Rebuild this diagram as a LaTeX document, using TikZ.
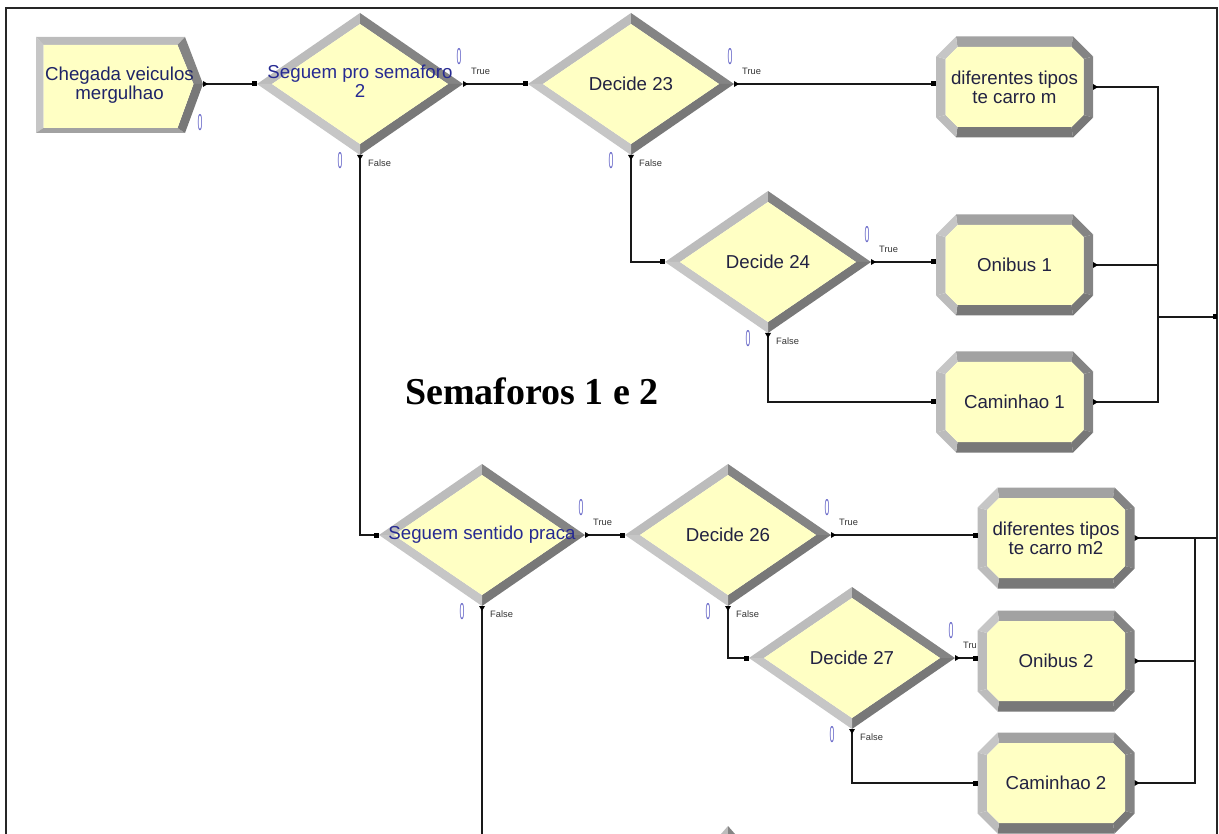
\documentclass[tikz,border=0pt]{standalone}
\usepackage{fontspec}
\setmainfont{Liberation Sans}
\newfontfamily\titleserif{Liberation Serif}
\usetikzlibrary{shapes.geometric,calc}

\definecolor{modfill}{RGB}{255,255,196}
\definecolor{bevlt}{RGB}{188,188,188}
\definecolor{bevxl}{RGB}{198,198,198}
\definecolor{bevmd}{RGB}{162,162,162}
\definecolor{bevdk}{RGB}{132,132,132}
\definecolor{bevdkr}{RGB}{120,120,120}
\definecolor{txtslate}{RGB}{34,34,66}
\definecolor{txtnavy}{RGB}{30,36,104}
\definecolor{txtblue}{RGB}{38,42,146}
\definecolor{cntblue}{RGB}{104,104,200}

% thin counter digit shown next to each module
\newcommand\cntzero{\scalebox{0.38}[1]{0}}

% counters, branch names and port marks of a Decide module
\newcommand\branchmarks[2]{%
  \node[cnt] (#1-tc) at ($(#1.east)+(-4,-27)$) {\cntzero};
  \node[branch] (#1-tl) at ($(#1.east)+(8,-13)$) {#2};
  \node[cnt] (#1-fc) at ($(#1.south)+(-20,6)$) {\cntzero};
  \node[branch] (#1-fl) at ($(#1.south)+(8,8)$) {False};
  \pic at (#1.west) {inport};
  \pic at (#1.east) {outport};
  \pic[rotate=-90] at (#1.south) {outport};
}

\begin{document}
\begin{tikzpicture}[x=1pt,y=-1pt,
  modfont/.style={font=\fontsize{18.7}{19}\selectfont},
  decide/.style={shape=diamond, minimum width=206, minimum height=142,
    inner sep=0, outer sep=0, modfont, text=txtslate},
  assign/.style={shape=rectangle, minimum width=157, minimum height=101,
    inner sep=0, outer sep=0, modfont, text=txtslate, align=center},
  create/.style={shape=rectangle, minimum width=167, minimum height=96,
    inner sep=0, outer sep=0, modfont, text=txtnavy, align=center},
  cnt/.style={font=\fontsize{23}{23}\selectfont, text=cntblue, inner sep=0},
  branch/.style={font=\fontsize{9.3}{10}\selectfont, text=black!80,
    inner sep=0, anchor=west},
  conn/.style={line width=1.1pt, black!90},
  frame/.style={line width=1.6pt, black!85},
  inport/.pic={\fill[black] (-5,-2.5) rectangle (0,2.5);},
  outport/.pic={\fill[black] (0,-3) -- (5,0) -- (0,3) -- cycle;},
  decidebevel/.pic={
    \fill[bevlt] (-103,0) -- (0,-71) -- (0,-60) -- (-88,0) -- cycle;
    \fill[bevdk] (0,-71) -- (103,0) -- (88,0) -- (0,-60) -- cycle;
    \fill[bevdkr] (103,0) -- (0,71) -- (0,60) -- (88,0) -- cycle;
    \fill[bevxl] (0,71) -- (-103,0) -- (-88,0) -- (0,60) -- cycle;
    \fill[modfill] (-88,0) -- (0,-60) -- (88,0) -- (0,60) -- cycle;
  },
  assignbevel/.pic={
    \fill[bevmd] (-58.5,-50.5) -- (58.5,-50.5) -- (57,-40) -- (-57,-40) -- cycle;
    \fill[bevdk] (58.5,-50.5) -- (78.5,-30.5) -- (69,-28) -- (57,-40) -- cycle;
    \fill[bevdk] (78.5,-30.5) -- (78.5,30.5) -- (69,28) -- (69,-28) -- cycle;
    \fill[bevdkr] (78.5,30.5) -- (58.5,50.5) -- (57,40) -- (69,28) -- cycle;
    \fill[bevdkr] (58.5,50.5) -- (-58.5,50.5) -- (-57,40) -- (57,40) -- cycle;
    \fill[bevlt] (-58.5,50.5) -- (-78.5,30.5) -- (-69,28) -- (-57,40) -- cycle;
    \fill[bevlt] (-78.5,30.5) -- (-78.5,-30.5) -- (-69,-28) -- (-69,28) -- cycle;
    \fill[bevxl] (-78.5,-30.5) -- (-58.5,-50.5) -- (-57,-40) -- (-69,-28) -- cycle;
    \fill[modfill] (-57,-40) -- (57,-40) -- (69,-28) -- (69,28) -- (57,40)
      -- (-57,40) -- (-69,28) -- (-69,-28) -- cycle;
  },
  createbevel/.pic={
    \fill[bevlt] (-83.5,-47) -- (65.5,-47) -- (58,-39) -- (-76,-39) -- cycle;
    \fill[bevxl] (-83.5,-47) -- (-76,-39) -- (-76,44) -- (-83.5,49) -- cycle;
    \fill[bevmd] (-83.5,49) -- (-76,44) -- (58,44) -- (65.5,49) -- cycle;
    \fill[bevdk] (65.5,-47) -- (83.5,0) -- (74,0) -- (58,-39) -- cycle;
    \fill[bevdkr] (83.5,0) -- (65.5,49) -- (58,44) -- (74,0) -- cycle;
    \fill[modfill] (-76,-39) -- (58,-39) -- (74,0) -- (58,44) -- (-76,44) -- cycle;
  },
]
\useasboundingbox (0,0) rectangle (1219,834);

% page frame
\draw[frame] (6,834) -- (6,8) -- (1217,8) -- (1217,834);

% module bodies
\pic at (119.5,84) {createbevel};
\pic at (360,84) {decidebevel};
\pic at (631,84) {decidebevel};
\pic at (768,262) {decidebevel};
\pic at (482,535) {decidebevel};
\pic at (728,535) {decidebevel};
\pic at (852,658) {decidebevel};
\pic at (1014.5,87) {assignbevel};
\pic at (1014.5,265) {assignbevel};
\pic at (1014.5,402) {assignbevel};
\pic at (1056,538) {assignbevel};
\pic at (1056,661) {assignbevel};
\pic at (1056,783) {assignbevel};

% top of a module lying below the visible area
\fill[bevlt] (721,834) -- (728,826) -- (728,834) -- cycle;
\fill[bevdk] (728,826) -- (735,834) -- (728,834) -- cycle;

% modules
\node[create] (c) at (119.5,85) {Chegada veiculos\\mergulhao};
\node[decide, text=txtblue] (d1) at (360,84)
  {\makebox[0pt]{\begin{tabular}{@{}c@{}}Seguem pro semaforo\\2\end{tabular}}};
\node[decide] (d23) at (631,84) {\makebox[0pt]{Decide 23}};
\node[decide] (d24) at (768,262) {\makebox[0pt]{Decide 24}};
\node[decide, text=txtblue] (d2) at (482,535) {\makebox[0pt]{Seguem sentido praca}};
\node[decide] (d26) at (728,535) {\makebox[0pt]{Decide 26}};
\node[decide] (d27) at (852,658) {\makebox[0pt]{Decide 27}};
\node[assign] (a1) at (1014.5,87) {diferentes tipos\\te carro m};
\node[assign] (on1) at (1014.5,265) {Onibus 1};
\node[assign] (ca1) at (1014.5,402) {Caminhao 1};
\node[assign] (a2) at (1056,538) {diferentes tipos\\te carro m2};
\node[assign] (on2) at (1056,661) {Onibus 2};
\node[assign] (ca2) at (1056,783) {Caminhao 2};

\node[font=\titleserif\fontsize{38}{40}\selectfont\bfseries, anchor=base, inner sep=0]
  (title) at (532,405) {Semaforos 1 e 2};

% merge points and exits
\coordinate (m1) at (1158,317);
\coordinate (out1) at (1217,317);
\coordinate (m2) at (1195,538);
\coordinate (out2) at (1217,538);
\coordinate (d2exit) at (482,834);

% connections
\draw[conn] (c.east |- d1.west) -- (d1.west);
\draw[conn] (d1.east) -- (d23.west);
\draw[conn] (d23.east) -- (d23.east -| a1.west);
\draw[conn] (d23.south) |- (d24.west);
\draw[conn] (d24.east) -- (d24.east -| on1.west);
\draw[conn] (d24.south) |- (ca1.west);
\draw[conn] (d1.south) |- (d2.west);
\draw[conn] (d2.east) -- (d26.west);
\draw[conn] (d26.east) -- (d26.east -| a2.west);
\draw[conn] (d26.south) |- (d27.west);
\draw[conn] (d27.east) -- (d27.east -| on2.west);
\draw[conn] (d27.south) |- (ca2.west);
\draw[conn] (d2.south) -- (d2exit);
\draw[conn] (a1.east) -| (m1);
\draw[conn] (on1.east) -| (m1);
\draw[conn] (ca1.east) -| (m1);
\draw[conn] (m1) -- (out1);
\draw[conn] (a2.east) -| (m2);
\draw[conn] (on2.east) -| (m2);
\draw[conn] (ca2.east) -| (m2);
\draw[conn] (m2) -- (out2);
\fill[black] ($(out1)+(-4,-2.5)$) rectangle ($(out1)+(0,2.5)$);

% ports, counters and branch names
\pic at (c.east |- d1.west) {outport};
\node[cnt] (c-cnt) at ($(c.east)+(-3,38)$) {\cntzero};
\branchmarks{d1}{True}
\branchmarks{d23}{True}
\branchmarks{d24}{True}
\branchmarks{d2}{True}
\branchmarks{d26}{True}
\branchmarks{d27}{Tru}
\foreach \m in {a1,on1,ca1,a2,on2,ca2} {
  \pic at (\m.east) {outport};
}
\pic at (d23.east -| a1.west) {inport};
\pic at (d24.east -| on1.west) {inport};
\pic at (ca1.west) {inport};
\pic at (d26.east -| a2.west) {inport};
\pic at (d27.east -| on2.west) {inport};
\pic at (ca2.west) {inport};
\end{tikzpicture}
\end{document}
